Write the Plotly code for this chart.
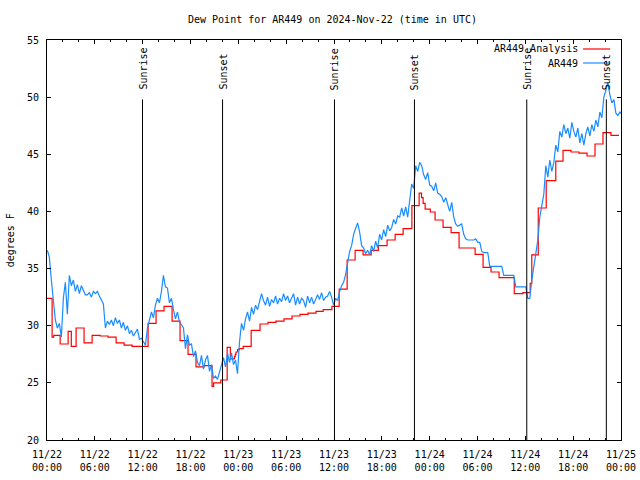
import pandas as pd
import plotly.graph_objects as go

# ---------------- data ----------------
BASE = pd.Timestamp("2024-11-22 00:00")

# AR449 analysis (step changes): hours after 11/22 00:00 UTC, deg F
analysis_hours = [0.0, 0.64, 0.84, 1.65, 2.65, 3.05, 3.65, 4.65, 5.66, 6.66,
                  7.66, 8.67, 9.67, 10.67, 12.68, 13.68, 14.68, 15.69, 16.69, 17.69,
                  18.69, 19.7, 20.7, 20.9, 21.8, 22.6, 23.0, 23.5, 23.61, 23.71,
                  23.91, 24.11, 24.61, 25.61, 26.72, 27.72, 28.72, 29.73, 30.73, 31.73,
                  32.74, 33.74, 34.64, 35.74, 36.65, 37.65, 38.65, 39.65, 40.66, 41.56,
                  42.66, 43.67, 44.67, 45.77, 46.68, 46.98, 47.18, 47.43, 48.08, 48.68,
                  49.68, 50.69, 51.69, 53.7, 54.7, 55.7, 56.7, 58.61, 59.71, 60.61,
                  60.81, 61.62, 62.62, 63.82, 64.73, 65.73, 66.73, 67.74, 68.74, 69.74,
                  70.74, 71.75]
analysis_values = [32.4, 29.0, 29.15, 28.4, 29.5, 28.2, 29.8, 28.5, 29.15, 29.1,
                   29.0, 28.5, 28.3, 28.2, 30.2, 31.3, 31.7, 30.4, 28.7, 27.5,
                   26.4, 26.5, 24.7, 25.0, 25.25, 28.1, 27.1, 27.3, 27.5, 27.7,
                   27.9, 28.0, 28.2, 29.6, 30.15, 30.3, 30.4, 30.6, 30.85, 31.0,
                   31.1, 31.25, 31.4, 31.7, 33.2, 35.75, 36.6, 36.2, 36.6, 37.0,
                   37.5, 38.0, 38.5, 40.5, 41.6, 41.2, 40.7, 40.2, 39.95, 39.25,
                   38.6, 38.15, 36.8, 36.25, 35.1, 34.7, 34.2, 32.8, 32.9, 33.7,
                   36.2, 40.3, 42.7, 44.4, 45.35, 45.2, 45.1, 44.85, 45.9, 46.9,
                   46.65, 46.65]

# AR449 observations, regular ~15 min reports
obs_start = "2024-11-22 00:02:30"
obs_values = [
    36.6, 36.0, 34.0, 32.5,  30.5, 29.8, 30.2, 29.0,  32.4, 33.8, 31.0, 34.4,
    33.5, 34.0, 33.0, 33.6,  32.8, 33.5, 33.0, 32.7,  32.7, 32.9, 32.5, 33.0,
    32.8, 33.0, 32.6, 32.2,  31.9, 29.8, 30.4, 30.1,  30.5, 30.0, 30.7, 30.2,
    30.5, 29.8, 30.3, 29.6,  30.0, 29.3, 29.6, 29.1,  29.4, 29.7, 28.8, 28.9,
    28.6, 28.3, 29.8, 30.6,  31.2, 30.7, 31.8, 32.4,  32.0, 33.0, 34.4, 33.4,
    33.3, 32.0, 32.4, 31.4,  30.6, 31.2, 30.3, 30.1,  29.8, 28.0, 29.2, 28.3,
    28.4, 27.3, 27.8, 26.8,  26.5, 27.4, 26.2, 27.0,  27.4, 26.0, 26.6, 25.4,
    25.6, 25.3, 26.0, 26.6,  27.2, 26.4, 27.6, 26.8,  27.6, 26.6, 27.0, 25.8,
    28.6, 30.2, 29.6, 30.6,  31.2, 30.4, 31.6, 31.0,  31.8, 31.4, 32.2, 32.8,
    32.2, 31.8, 32.5, 31.7,  32.3, 32.0, 32.6, 31.9,  32.4, 32.1, 32.8, 32.2,
    32.6, 32.0, 32.4, 32.8,  31.8, 32.5, 31.9, 32.4,  32.2, 31.6, 32.6, 32.0,
    32.5, 31.9, 32.3, 32.7,  32.3, 32.9, 32.2, 32.5,  32.6, 33.0, 32.5, 31.8,
    32.4, 32.2, 33.0, 33.5,  33.8, 34.5, 35.5, 36.5,  37.0, 38.0, 38.5, 39.0,
    38.2, 37.0, 36.8, 36.3,  36.6, 36.2, 37.0, 36.5,  37.4, 36.8, 38.0, 37.5,
    38.4, 37.8, 38.8, 38.3,  38.6, 39.3, 38.9, 39.6,  39.5, 40.3, 39.6, 40.4,
    39.5, 40.8, 42.4, 42.0,  44.0, 43.5, 44.3, 44.0,  43.2, 42.8, 43.4, 42.3,
    42.2, 41.8, 42.5, 41.6,  41.5, 41.3, 40.8, 41.2,  40.5, 40.0, 40.8, 39.5,
    38.9, 38.7, 38.8, 38.9,  38.0, 37.6, 37.5, 37.5,  37.5, 37.5, 37.6, 37.3,
    37.3, 36.5, 36.4, 36.4,  36.4, 35.2, 35.2, 35.2,  35.2, 35.2, 35.2, 35.2,
    34.4, 34.4, 34.4, 34.4,  34.4, 34.4, 33.4, 33.4,  33.4, 33.4, 33.4, 33.4,
    32.4, 32.4, 34.0, 35.0,  36.3, 37.5, 39.5, 40.5,  41.5, 44.0, 43.0, 44.5,
    43.5, 44.3, 45.8, 45.2,  47.0, 46.5, 47.6, 46.8,  47.3, 46.4, 47.8, 47.0,
    46.5, 47.3, 46.0, 46.8,  45.8, 46.8, 47.4, 46.6,  47.6, 47.0, 48.0, 47.4,
    48.7, 48.2, 50.0, 50.6,  51.3, 50.2, 49.5, 49.8,  48.6, 48.4, 48.7, 48.5,
]

sunrise_hours = [11.98, 36.06, 60.18]
sunset_hours = [22.02, 46.09, 70.16]

title_text = "Dew Point for AR449 on 2024-Nov-22 (time in UTC)"
series_names = ["AR449 Analysis", "AR449"]
series_colors = ["#ff0000", "#1a8cff"]
y_label = "degrees F"

# ---------------- figure ----------------
FONT = "DejaVu Sans Mono, Liberation Mono, monospace"

analysis_x = [BASE + pd.to_timedelta(h, unit="h") for h in analysis_hours]
obs_x = pd.date_range(start=obs_start, periods=len(obs_values), freq="904s")

fig = go.Figure()
fig.add_trace(go.Scatter(x=analysis_x, y=analysis_values, mode="lines",
                         line=dict(color=series_colors[0], width=1.2, shape="hv"),
                         name=series_names[0], showlegend=False))
fig.add_trace(go.Scatter(x=obs_x, y=obs_values, mode="lines",
                         line=dict(color=series_colors[1], width=1.2, shape="linear"),
                         name=series_names[1], showlegend=False))

# sunrise / sunset markers
for label, hours in (("Sunrise", sunrise_hours), ("Sunset", sunset_hours)):
    for h in hours:
        t = BASE + pd.to_timedelta(h, unit="h")
        fig.add_shape(type="line", xref="x", yref="y", x0=t, x1=t, y0=20, y1=49.8,
                      line=dict(color="black", width=1), layer="above")
        fig.add_annotation(x=t, y=50.45, xref="x", yref="y", text=label,
                           textangle=-90, showarrow=False, xanchor="center",
                           yanchor="bottom", font=dict(family=FONT, size=10, color="black"))

# legend drawn gnuplot-style (text, then sample line)
left_px, right_px, top_px, bot_px = 46.67, 621.0, 40.0, 440.0
def px_to_paper(px, py):
    return (px - left_px) / (right_px - left_px), (bot_px - py) / (bot_px - top_px)

for i, (name, col) in enumerate(zip(series_names, series_colors)):
    py = 49 + 14 * i
    tx, ty = px_to_paper(580, py)
    fig.add_annotation(x=tx, y=ty, xref="paper", yref="paper", text=name,
                       showarrow=False, xanchor="right", yanchor="middle",
                       font=dict(family=FONT, size=10, color="black"))
    x0, _ = px_to_paper(583, py)
    x1, _ = px_to_paper(610, py)
    fig.add_shape(type="line", xref="paper", yref="paper", x0=x0, x1=x1, y0=ty, y1=ty,
                  line=dict(color=col, width=1.2))

# title and y label
tx, ty = px_to_paper(332, 19)
fig.add_annotation(x=tx, y=ty, xref="paper", yref="paper", text=title_text,
                   showarrow=False, xanchor="center", yanchor="middle",
                   font=dict(family=FONT, size=10, color="black"))
tx, ty = px_to_paper(10, 240)
fig.add_annotation(x=tx, y=ty, xref="paper", yref="paper", text=y_label,
                   showarrow=False, textangle=-90, xanchor="center", yanchor="middle",
                   font=dict(family=FONT, size=10, color="black"))

fig.update_layout(
    width=640, height=480,
    margin=dict(l=47, r=19, t=40, b=40, autoexpand=False),
    paper_bgcolor="white", plot_bgcolor="white",
    font=dict(family=FONT, size=10, color="black"),
    showlegend=False,
)
fig.update_xaxes(
    type="date",
    range=[BASE, BASE + pd.Timedelta(hours=72)],
    tick0=BASE, dtick=6 * 3600 * 1000,
    tickformat="%m/%d<br>%H:%M",
    ticks="inside", ticklen=4, tickcolor="black", tickwidth=1,
    minor=dict(dtick=2 * 3600 * 1000, ticks="inside", ticklen=2, tickcolor="black"),
    showline=True, linecolor="black", linewidth=1, mirror="allticks",
    showgrid=False, zeroline=False,
    ticklabelstandoff=5,
    tickfont=dict(family=FONT, size=10, color="black"),
    automargin=False,
)
fig.update_yaxes(
    range=[20, 55], dtick=5, tick0=20,
    ticks="inside", ticklen=4, tickcolor="black", tickwidth=1,
    showline=True, linecolor="black", linewidth=1, mirror="allticks",
    showgrid=False, zeroline=False,
    ticklabelstandoff=5,
    tickfont=dict(family=FONT, size=10, color="black"),
    automargin=False,
)

fig.write_html("out.html",
               config={"displayModeBar": False},
               post_script="document.body.style.margin='0';document.body.style.padding='0';")
